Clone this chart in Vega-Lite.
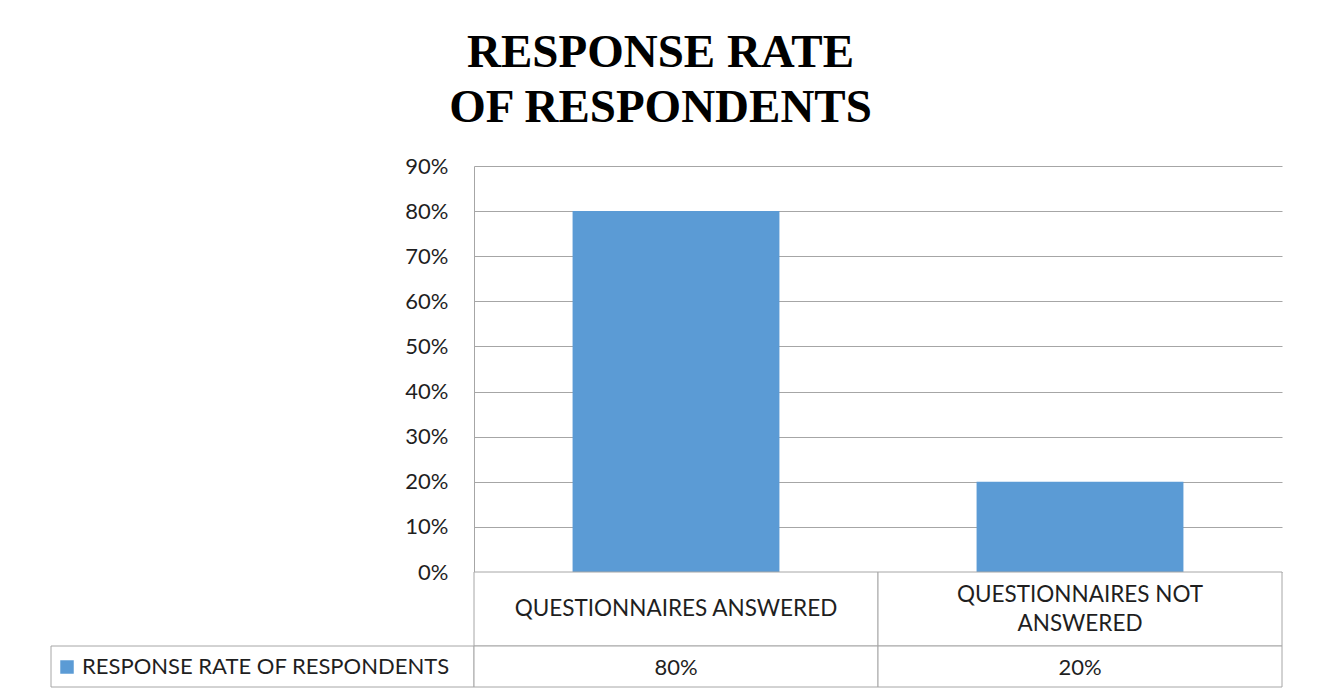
{
  "$schema": "https://vega.github.io/schema/vega-lite/v6.json",
  "background": "white",
  "padding": {"left": 50, "right": 36, "top": 29, "bottom": 8},
  "title": {
    "text": ["RESPONSE RATE", "OF RESPONDENTS"],
    "font": "Liberation Serif",
    "fontWeight": "bold",
    "fontSize": 47,
    "lineHeight": 55,
    "color": "#000000",
    "anchor": "middle",
    "dx": -6,
    "offset": 23
  },
  "datasets": {
    "rates": [
      {"category": "QUESTIONNAIRES ANSWERED", "label": "QUESTIONNAIRES ANSWERED", "series": "RESPONSE RATE OF RESPONDENTS", "value": 0.8},
      {"category": "QUESTIONNAIRES NOT ANSWERED", "label": "QUESTIONNAIRES NOT\nANSWERED", "series": "RESPONSE RATE OF RESPONDENTS", "value": 0.2}
    ]
  },
  "columns": 2,
  "spacing": 0,
  "bounds": "flush",
  "concat": [
    {
      "width": 423,
      "height": 406,
      "data": {"values": []},
      "mark": "point"
    },
    {
      "width": 808,
      "height": 406,
      "data": {"name": "rates"},
      "mark": {"type": "bar", "width": {"band": 0.512}},
      "encoding": {
        "x": {
          "field": "category",
          "type": "nominal",
          "sort": null,
          "scale": {"paddingInner": 0, "paddingOuter": 0},
          "axis": null
        },
        "y": {
          "field": "value",
          "type": "quantitative",
          "scale": {"domain": [0, 0.9], "nice": false},
          "axis": {
            "values": [0, 0.1, 0.2, 0.3, 0.4, 0.5, 0.6, 0.7, 0.8, 0.9],
            "format": ".0%",
            "title": null,
            "ticks": false,
            "labelPadding": 26,
            "labelFont": "Lato",
            "labelFontSize": 22,
            "labelColor": "#1f1f1f",
            "domain": true,
            "domainColor": "#a6a6a6",
            "domainWidth": 1,
            "grid": true,
            "gridColor": "#a6a6a6",
            "gridWidth": 1
          }
        },
        "color": {
          "field": "series",
          "type": "nominal",
          "scale": {"range": ["#5b9bd5"]},
          "legend": {
            "title": null,
            "orient": "none",
            "legendX": 5,
            "legendY": 490,
            "padding": 0,
            "symbolType": "square",
            "symbolSize": 182,
            "symbolStrokeWidth": 0,
            "labelFont": "Lato",
            "labelFontSize": 22,
            "labelColor": "#1f1f1f",
            "labelOffset": 4,
            "labelLimit": 600
          }
        }
      }
    },
    {
      "width": 423,
      "height": 74,
      "data": {"values": []},
      "mark": "point"
    },
    {
      "width": 808,
      "height": 74,
      "data": {"name": "rates"},
      "encoding": {
        "x": {
          "field": "category",
          "type": "nominal",
          "sort": null,
          "scale": {"paddingInner": 0, "paddingOuter": 0},
          "axis": null
        }
      },
      "layer": [
        {"mark": {"type": "rect", "fill": "white", "stroke": "#a6a6a6", "strokeWidth": 1}},
        {
          "transform": [{"filter": "indexof(datum.label, '\\n') < 0"}],
          "mark": {"type": "text", "font": "Lato", "fontSize": 22.5, "color": "#1f1f1f", "baseline": "middle", "align": "center"},
          "encoding": {"text": {"field": "label"}}
        },
        {
          "transform": [{"filter": "indexof(datum.label, '\\n') >= 0"}],
          "mark": {"type": "text", "font": "Lato", "fontSize": 22.5, "color": "#1f1f1f", "lineBreak": "\n", "lineHeight": 28.5, "baseline": "middle", "align": "center", "dy": -14},
          "encoding": {"text": {"field": "label"}}
        }
      ]
    },
    {
      "width": 423,
      "height": 41,
      "data": {"values": [{"cell": "series"}]},
      "mark": {"type": "rect", "fill": "white", "stroke": "#a6a6a6", "strokeWidth": 1}
    },
    {
      "width": 808,
      "height": 41,
      "data": {"name": "rates"},
      "encoding": {
        "x": {
          "field": "category",
          "type": "nominal",
          "sort": null,
          "scale": {"paddingInner": 0, "paddingOuter": 0},
          "axis": null
        }
      },
      "layer": [
        {"mark": {"type": "rect", "fill": "white", "stroke": "#a6a6a6", "strokeWidth": 1}},
        {
          "mark": {"type": "text", "font": "Lato", "fontSize": 22, "color": "#1f1f1f", "baseline": "middle", "align": "center", "dy": 1},
          "encoding": {"text": {"field": "value", "type": "quantitative", "format": ".0%"}}
        }
      ]
    }
  ],
  "config": {
    "view": {"stroke": null},
    "concat": {"spacing": 0}
  }
}
